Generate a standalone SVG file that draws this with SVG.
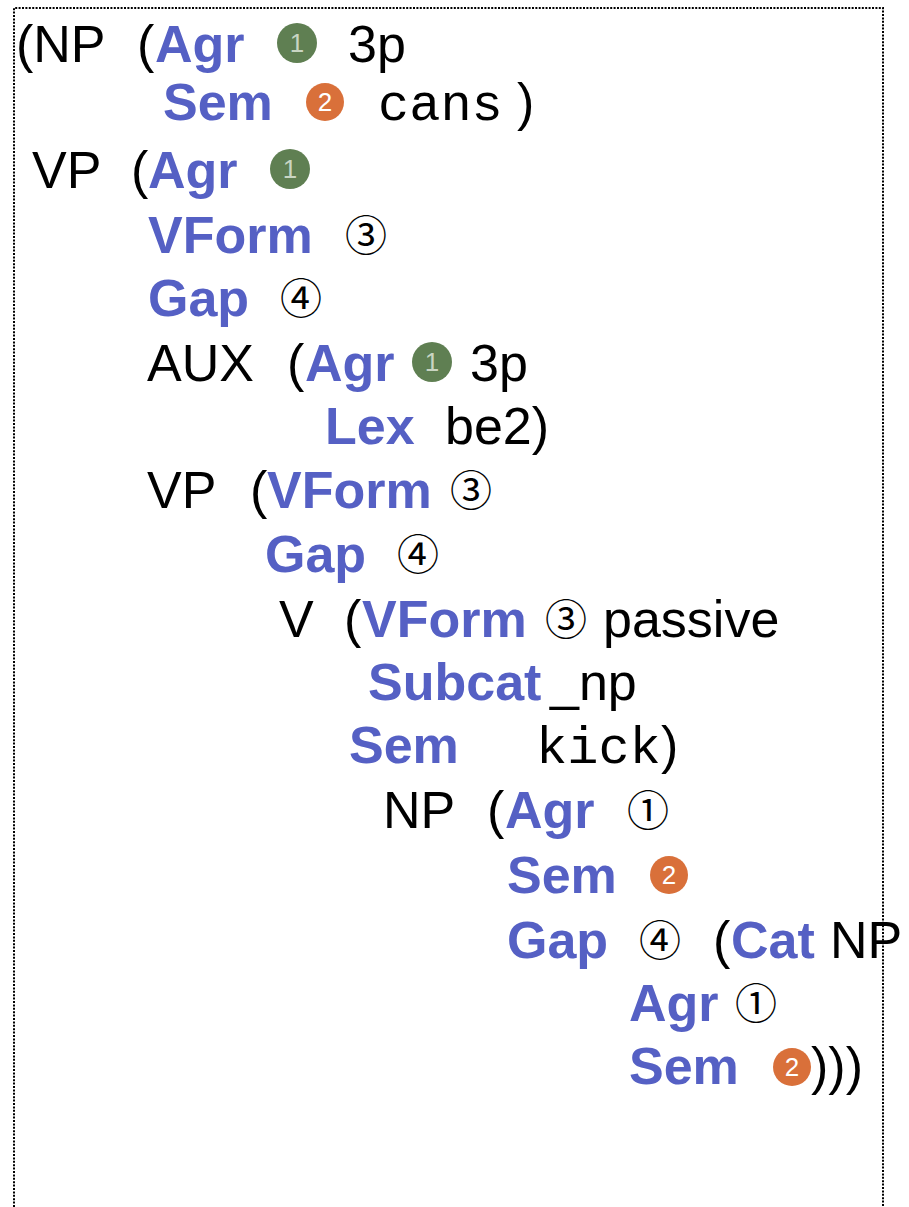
<svg xmlns="http://www.w3.org/2000/svg" width="909" height="1207" viewBox="0 0 909 1207">
<style>
text{font-family:"Liberation Sans",Arial,sans-serif;font-size:52px;fill:#000}
.k{font-weight:bold;fill:#5560C4}
.m{font-family:"Liberation Mono","Courier New",monospace;font-size:52px}
.c{font-family:"Noto Sans CJK JP","DejaVu Sans",sans-serif;font-size:42px;text-anchor:middle}
.g{fill:#5F7F52}
.o{fill:#D9703A}
.n{font-family:"Liberation Sans",Arial,sans-serif;font-size:26px;text-anchor:middle}
.ng{fill:#C9D5C2;font-weight:normal}
.no{fill:#ffffff}
</style>
<rect width="909" height="1207" fill="#fff"/>
<path d="M14,1207 V8 H883 V1207" fill="none" stroke="#000" stroke-width="2" stroke-dasharray="2 1.4"/>
<g id="np1">
<text x="16" y="62">(NP</text><text x="137" y="62">(</text><text class="k" x="155" y="62">Agr</text>
<circle class="g" cx="297" cy="43" r="20"/><text class="n ng" x="297" y="52">1</text>
<text x="348" y="62">3p</text>
<text class="k" x="163" y="120">Sem</text>
<circle class="o" cx="325" cy="102" r="19"/><text class="n no" x="325" y="111">2</text>
<text class="m" x="378" y="120">cans</text><text x="517" y="120">)</text>
</g>
<g id="vp1">
<text x="32" y="188">VP</text><text x="131" y="188">(</text><text class="k" x="148" y="188">Agr</text>
<circle class="g" cx="290" cy="169" r="20"/><text class="n ng" x="290" y="178">1</text>
<text class="k" x="148" y="253">VForm</text><text class="c" x="366" y="251">③</text>
<text class="k" x="148" y="316">Gap</text><text class="c" x="301" y="314">④</text>
</g>
<g id="aux">
<text x="147" y="381">AUX</text><text x="287" y="381">(</text><text class="k" x="305" y="381">Agr</text>
<circle class="g" cx="432" cy="362" r="20"/><text class="n ng" x="432" y="371">1</text>
<text x="470" y="381">3p</text>
<text class="k" x="325" y="444">Lex</text><text x="445" y="444">be2)</text>
</g>
<g id="vp2">
<text x="147" y="508">VP</text><text x="250" y="508">(</text><text class="k" x="267" y="508">VForm</text>
<text class="c" x="471" y="506">③</text>
<text class="k" x="265" y="572">Gap</text><text class="c" x="418" y="570">④</text>
</g>
<g id="v">
<text x="279" y="637">V</text><text x="344" y="637">(</text><text class="k" x="362" y="637">VForm</text>
<text class="c" x="566" y="635">③</text><text x="603" y="637">passive</text>
<text class="k" x="368" y="700">Subcat</text><text x="550" y="700">_np</text>
<text class="k" x="349" y="763">Sem</text><text class="m" x="536" y="763">kick</text><text x="661" y="763">)</text>
</g>
<g id="np2">
<text x="383" y="828">NP</text><text x="487" y="828">(</text><text class="k" x="505" y="828">Agr</text>
<text class="c" x="648" y="826">①</text>
<text class="k" x="507" y="893">Sem</text>
<circle class="o" cx="669" cy="875" r="19"/><text class="n no" x="669" y="884">2</text>
<text class="k" x="507" y="958">Gap</text><text class="c" x="660" y="956">④</text>
<text x="713" y="958">(</text><text class="k" x="731" y="958">Cat</text><text x="830" y="958">NP</text>
<text class="k" x="629" y="1021">Agr</text><text class="c" x="756" y="1019">①</text>
<text class="k" x="629" y="1084">Sem</text>
<circle class="o" cx="792" cy="1067" r="19"/><text class="n no" x="792" y="1076">2</text>
<text x="811" y="1084">)))</text>
</g>
</svg>
